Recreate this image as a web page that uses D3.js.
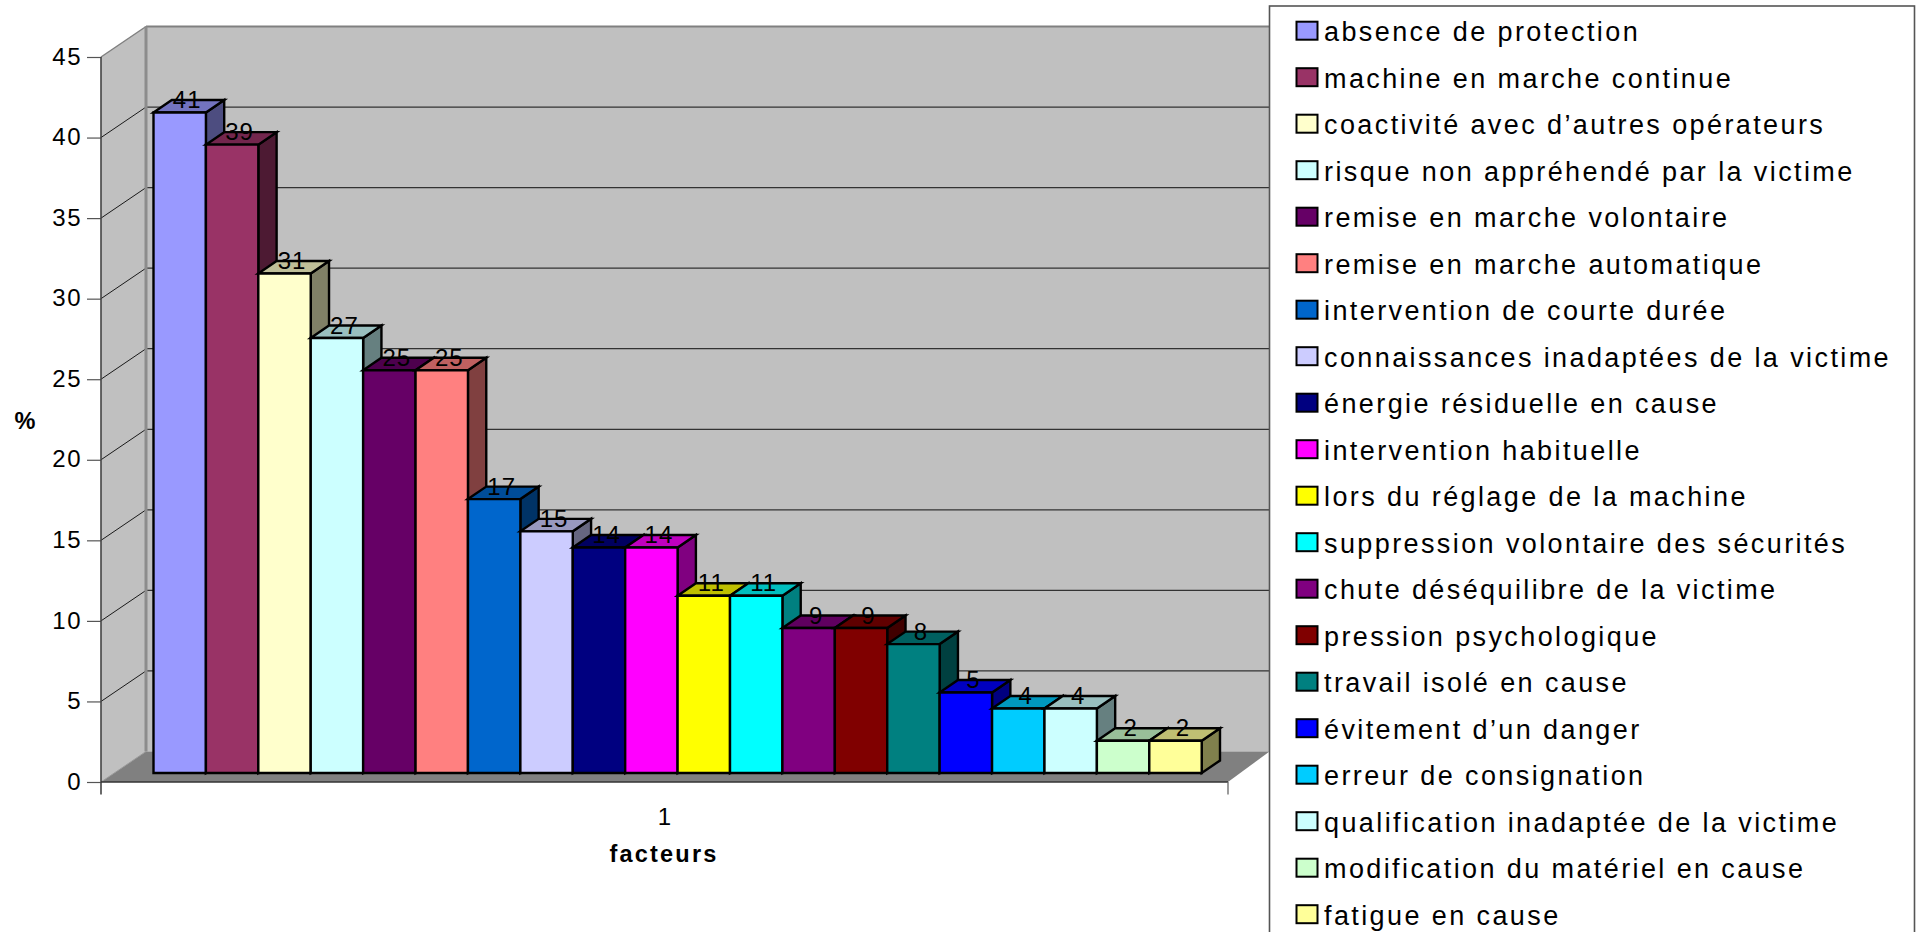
<!DOCTYPE html>
<html lang="fr">
<head>
<meta charset="utf-8">
<script src="https://cdn.jsdelivr.net/npm/d3@7/dist/d3.min.js"></script>
<style>
html,body{margin:0;padding:0;background:#fff;overflow:hidden}
svg{display:block}
text{font-family:"Liberation Sans",Arial,sans-serif;fill:#000}
</style>
</head>
<body>
<svg id="chart" width="1916" height="932"></svg>
<script>
// Factors and their share (%) of the recorded accidents
const facteurs = [
  "absence de protection","machine en marche continue","coactivité avec d’autres opérateurs",
  "risque non appréhendé par la victime","remise en marche volontaire","remise en marche automatique",
  "intervention de courte durée","connaissances inadaptées de la victime","énergie résiduelle en cause",
  "intervention habituelle","lors du réglage de la machine","suppression volontaire des sécurités",
  "chute déséquilibre de la victime","pression psychologique","travail isolé en cause",
  "évitement d’un danger","erreur de consignation","qualification inadaptée de la victime",
  "modification du matériel en cause","fatigue en cause"
];
const valeurs = [41,39,31,27,25,25,17,15,14,14,11,11,9,9,8,5,4,4,2,2];
const couleurs = [
  "#9999FF","#993366","#FFFFCC","#CCFFFF","#660066","#FF8080","#0066CC","#CCCCFF","#000080","#FF00FF",
  "#FFFF00","#00FFFF","#800080","#800000","#008080","#0000FF","#00CCFF","#CCFFFF","#CCFFCC","#FFFF99"
];
const graduations = [0,5,10,15,20,25,30,35,40,45];

const svg = d3.select("#chart");

// Frame of the 3D box: front plane, and how far the back wall is shifted
const frontLeft = 101, frontRight = 1228, yZero = 782, yTop = 57;
const depthX = 45, depthY = -30.5;
const wallRight = 1269.5;

const yFront = d3.scaleLinear().domain([0,45]).range([yZero,yTop]);

// Bars sit part-way into the box
const barBaseShift = -9;
const xBar = d3.scaleBand().domain(facteurs).range([153.5,1201.7]);
const yBar = v => yFront(v) + barBaseShift;
const barDepthX = 18.3, barDepthY = -12.5;

const poly = (pts, fill, stroke, w) => svg.append("polygon")
  .attr("points", pts.map(p => p.join(",")).join(" "))
  .attr("fill", fill).attr("stroke", stroke || "none").attr("stroke-width", w || 0);

// Walls and floor
poly([[frontLeft+depthX,yTop+depthY],[wallRight,yTop+depthY],[wallRight,yZero+depthY],[frontLeft+depthX,yZero+depthY]],"#c0c0c0");
poly([[frontLeft,yTop],[frontLeft+depthX,yTop+depthY],[frontLeft+depthX,yZero+depthY],[frontLeft,yZero]],"#c0c0c0");
poly([[frontLeft,yZero],[frontLeft+depthX,yZero+depthY],[wallRight,yZero+depthY],[frontRight,yZero]],"#808080");

// Gridlines on the back wall and their continuation on the side wall
const grid = svg.append("g");
graduations.filter(g => g > 0).forEach(g => {
  const y = yFront(g);
  grid.append("line").attr("x1",frontLeft).attr("y1",y).attr("x2",frontLeft+depthX).attr("y2",y+depthY)
    .attr("stroke", g === 45 ? "#808080" : "#1a1a1a").attr("stroke-width", g === 45 ? 1.5 : 1);
  grid.append("line").attr("x1",frontLeft+depthX).attr("y1",y+depthY).attr("x2",wallRight).attr("y2",y+depthY)
    .attr("stroke", g === 45 ? "#808080" : "#333").attr("stroke-width", g === 45 ? 2 : 1.2);
});
grid.append("line").attr("x1",frontLeft+depthX).attr("y1",yTop+depthY).attr("x2",frontLeft+depthX).attr("y2",yZero+depthY)
  .attr("stroke","#8c8c8c").attr("stroke-width",3);
grid.append("line").attr("x1",frontLeft).attr("y1",yZero).attr("x2",frontLeft+depthX).attr("y2",yZero+depthY)
  .attr("stroke","#9a9a9a").attr("stroke-width",1);

// Bars, painted left to right so each one overlaps the side of the previous
const shade = (c,k) => { const r = d3.rgb(c); return d3.rgb(r.r*k,r.g*k,r.b*k).formatHex(); };
valeurs.forEach((v,i) => {
  const x0 = xBar(facteurs[i]), x1 = x0 + xBar.bandwidth();
  const yT = yBar(v), yB = yBar(0);
  const g = couleurs[i];
  poly([[x1,yT],[x1+barDepthX,yT+barDepthY],[x1+barDepthX,yB+barDepthY],[x1,yB]], shade(g,.5), "#000", 2.4);
  poly([[x0,yT],[x0+barDepthX,yT+barDepthY],[x1+barDepthX,yT+barDepthY],[x1,yT]], shade(g,.75), "#000", 2.4);
  poly([[x0,yT],[x1,yT],[x1,yB],[x0,yB]], g, "#000", 2.4);
});

// Value labels
svg.append("g").selectAll("text").data(valeurs).join("text")
  .attr("x",(d,i) => xBar(facteurs[i]) + xBar.bandwidth()/2 + 7.5)
  .attr("y",d => yBar(d) - 4.5)
  .attr("text-anchor","middle").attr("font-size",24).attr("letter-spacing",1).attr("fill","#111")
  .text(d => d);

// Vertical axis at the front-left edge
const yAxis = svg.append("g").attr("transform",`translate(${frontLeft},0)`)
  .call(d3.axisLeft(yFront).tickValues(graduations).tickSize(14).tickPadding(5));
yAxis.select(".domain").remove();
yAxis.selectAll("line").attr("stroke","#555").attr("stroke-width",1.2);
yAxis.selectAll("text").attr("font-size",24).attr("font-family",null).attr("letter-spacing",1.5).attr("dy","0.30em");
svg.append("line").attr("x1",frontLeft).attr("x2",frontLeft).attr("y1",yTop).attr("y2",yZero+12.5)
  .attr("stroke","#444").attr("stroke-width",1.6);

// Horizontal axis at the front edge
const xAxis = d3.scaleLinear().domain([0,1]).range([frontLeft,frontRight]);
svg.append("line").attr("x1",xAxis(0)).attr("x2",xAxis(1)).attr("y1",yZero).attr("y2",yZero)
  .attr("stroke","#333").attr("stroke-width",1.6);
svg.append("line").attr("x1",xAxis(1)).attr("x2",xAxis(1)).attr("y1",yZero).attr("y2",yZero+12.5)
  .attr("stroke","#666").attr("stroke-width",1.3);
svg.append("text").attr("x",xAxis(.5)).attr("y",825).attr("text-anchor","middle").attr("font-size",24).text("1");

// Axis titles
svg.append("text").attr("x",664).attr("y",862).attr("text-anchor","middle")
  .attr("font-size",23.5).attr("font-weight","bold").attr("letter-spacing",2.2).text("facteurs");
svg.append("text").attr("x",25).attr("y",429).attr("text-anchor","middle")
  .attr("font-size",23.5).attr("font-weight","bold").text("%");

// Legend
const legendTop = 6, rowStep = 46.5, swatchTop = 21.7;
svg.append("rect").attr("x",1269.5).attr("y",legendTop).attr("width",645).attr("height",940)
  .attr("fill","#fff").attr("stroke","#555").attr("stroke-width",1.6);
const rows = svg.append("g").selectAll("g").data(facteurs).join("g")
  .attr("transform",(d,i) => `translate(0,${swatchTop + i*rowStep})`);
rows.append("rect").attr("x",1296.5).attr("y",0).attr("width",21).attr("height",18)
  .attr("fill",(d,i) => couleurs[i]).attr("stroke","#000").attr("stroke-width",2);
rows.append("text").attr("x",1324).attr("y",19.5)
  .attr("font-size",27).attr("letter-spacing",2.4).text(d => d);
</script>
</body>
</html>
